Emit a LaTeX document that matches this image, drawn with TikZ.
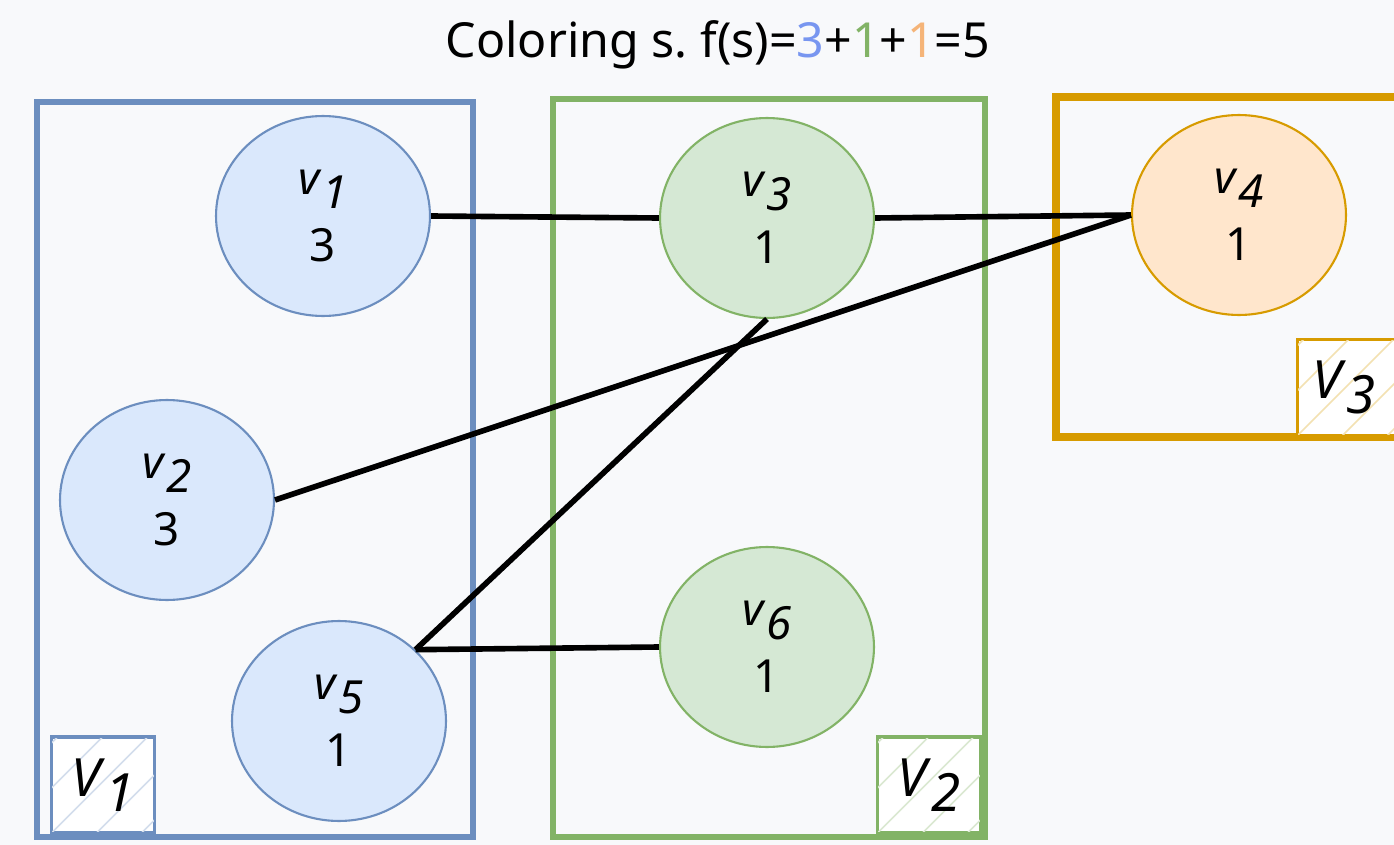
\documentclass[tikz,border=0pt]{standalone}
\usepackage{fontspec}
\setmainfont{Noto Sans}
\usepackage{xcolor}
\usepackage{tikz}
\usetikzlibrary{
    shapes.geometric,
    positioning
}
\definecolor{bgpage}{RGB}{248,249,251}
\definecolor{blueline}{RGB}{108,142,191}
\definecolor{bluefill}{RGB}{218,232,252}
\definecolor{greenline}{RGB}{130,179,102}
\definecolor{greenfill}{RGB}{213,232,212}
\definecolor{orangeline}{RGB}{215,155,0}
\definecolor{orangefill}{RGB}{255,230,204}
\definecolor{titleblue}{RGB}{120,150,240}
\definecolor{titleorange}{RGB}{245,180,120}
\newcommand{\vsub}[2]{\textit{#1}\raisebox{-0.55ex}{\textit{#2}}}
\newcommand{\hatchin}[2]{% node name, colour
    \begin{scope}
        \clip (#1.south west) rectangle (#1.north east);
        \foreach \k in {-135,-90,...,135}
            \draw[#2!30, line width=0.9pt] ([xshift=\k*0.02cm]#1.south west) -- ++(120,-120);
    \end{scope}}
\tikzset{
    vertex/.style={ellipse, draw, line width=1.2pt, inner sep=0pt,
        minimum width=4.28cm, minimum height=4cm, align=center,
        font=\fontsize{26}{38}\selectfont},
    part/.style={draw, line width=3pt},
    tag/.style={draw, line width=1.2pt, minimum width=2.04cm, minimum height=1.9cm,
        inner sep=0pt, fill=white},
    taglabel/.style={font=\fontsize{30}{32}\selectfont},
    wire/.style={draw, line width=3.2pt, black},
}

\begin{document}
\begin{tikzpicture}[x=0.02cm,y=-0.02cm]
    \useasboundingbox[fill=bgpage] (0,0) rectangle (1394,845);
    % title
    \node[font=\fontsize{27.5}{34}\selectfont] (title) at (718,45)
        {Coloring s.\ f(s)=\textcolor{titleblue}{3}+\textcolor{greenline}{1}+\textcolor{titleorange}{1}=5};
    % partitions
    \draw[part, blueline] (37,102) rectangle (473,837);
    \draw[part, greenline] (553,99) rectangle (985,837);
    \draw[part, orangeline, line width=4.5pt] (1056,97) rectangle (1410,437);
    \node[tag, draw=blueline] (t1) at (103,785) {};
    \node[tag, draw=greenline] (t2) at (929,785) {};
    \node[tag, draw=orangeline, anchor=north west] (t3) at (1297,339) {};
    \hatchin{t1}{blueline}
    \hatchin{t2}{greenline}
    \hatchin{t3}{orangeline}
    \draw[blueline, line width=1.2pt] (t1.south west) rectangle (t1.north east);
    \draw[greenline, line width=1.2pt] (t2.south west) rectangle (t2.north east);
    \draw[orangeline, line width=1.2pt] (t3.south west) rectangle (t3.north east);
    \node[taglabel] at (t1) {\vsub{V}{1}};
    \node[taglabel] at (t2) {\vsub{V}{2}};
    \node[taglabel] at ([xshift=-0.1cm]t3) {\vsub{V}{3}};
    % vertices
    \node[vertex, draw=blueline, fill=bluefill] (v1) at (323,216) {\vsub{v}{1}\\3};
    \node[vertex, draw=blueline, fill=bluefill] (v2) at (167,500) {\vsub{v}{2}\\3};
    \node[vertex, draw=blueline, fill=bluefill] (v5) at (339,721) {\vsub{v}{5}\\1};
    \node[vertex, draw=greenline, fill=greenfill] (v3) at (767,218) {\vsub{v}{3}\\1};
    \node[vertex, draw=greenline, fill=greenfill] (v6) at (767,647) {\vsub{v}{6}\\1};
    \node[vertex, draw=orangeline, fill=orangefill] (v4) at (1239,215) {\vsub{v}{4}\\1};
    % edges
    \path
    (v1.east) edge[wire] (v3.west)
    (v3.east) edge[wire] (v4.west)
    (v2.east) edge[wire] (v4.west)
    (v3.south) edge[wire] (v5.43)
    (v5.43) edge[wire] (v6.west);
\end{tikzpicture}
\end{document}
